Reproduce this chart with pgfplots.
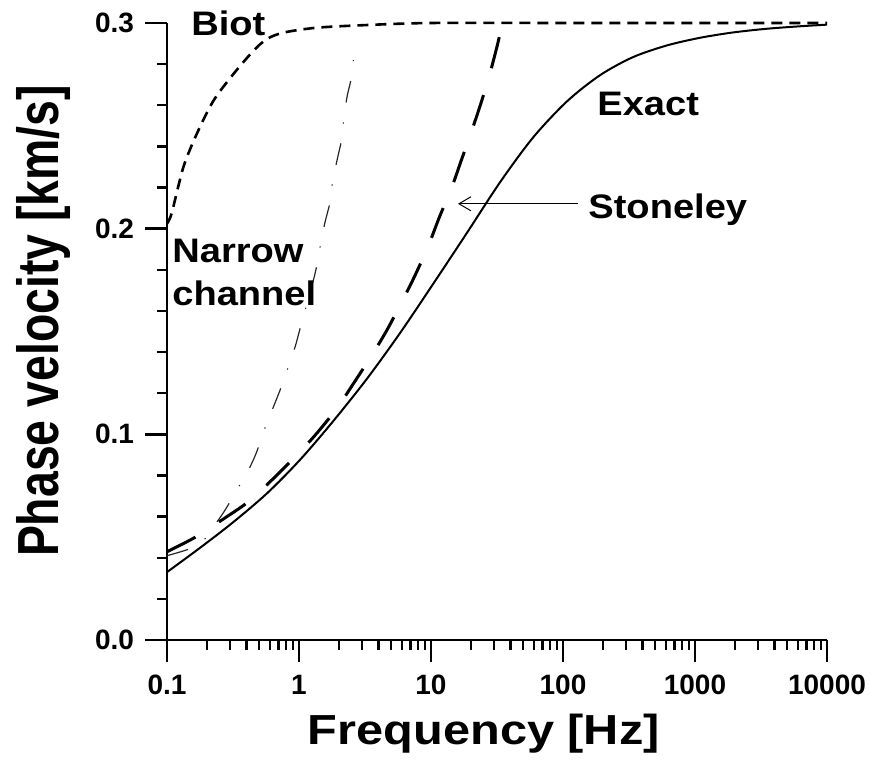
\documentclass[border=0pt]{standalone}
\usepackage{pgfplots}
\pgfplotsset{compat=1.18}
\usepackage{fontspec}
\setmainfont{Liberation Sans}
\usetikzlibrary{arrows.meta}

% annotation text: bold, a little wider than the font
\newcommand{\annot}[1]{\scalebox{1.12}[1]{\fontsize{17}{20}\selectfont\bfseries #1}}

\begin{document}
\begin{tikzpicture}
\begin{axis}[
    at={(0,0)}, anchor=south west,
    scale only axis,
    width=330pt, height=308.5pt,
    xmode=log,
    xmin=0.1, xmax=10000,
    ymin=0, ymax=0.3,
    axis lines=left,
    axis line style={-, line width=1.2pt},
    every tick/.style={black, line width=1.2pt},
    tick align=outside,
    major tick length=11pt,
    minor tick length=5pt,
    xtick={0.1,1,10,100,1000,10000},
    xticklabels={0.1,1,10,100,1000,10000},
    ytick={0,0.1,0.2,0.3},
    yticklabels={0.0,0.1,0.2,0.3},
    minor y tick num=4,
    ticklabel style={font=\fontsize{14}{16}\selectfont\bfseries},
    xticklabel style={yshift=-3pt},
    yticklabel style={xshift=-2pt},
    clip=false,
]

% Biot
\addplot[black, line width=1.3pt, dash pattern=on 5.5pt off 3.5pt, smooth] coordinates {
    (0.1,0.2025) (0.1085,0.2075) (0.1329,0.2298) (0.1679,0.2460) (0.2244,0.2621)
    (0.3178,0.2751) (0.4505,0.2864) (0.569,0.2921) (0.76,0.2953) (1.361,0.2977)
    (3.26,0.299) (10,0.3) (100,0.3) (1000,0.3) (10000,0.3)
};

% Narrow channel
\addplot[black!85, line width=0.6pt, dash pattern=on 11pt off 10pt on 0.6pt off 10pt, smooth] coordinates {
    (0.1,0.041) (0.1726,0.0461) (0.2244,0.055) (0.275,0.0631) (0.337,0.0728)
    (0.413,0.0825) (0.478,0.0914) (0.537,0.1011) (0.718,0.1214) (0.815,0.1314)
    (0.933,0.1424) (1.018,0.1513) (1.283,0.1748) (1.362,0.182) (1.459,0.1926)
    (1.574,0.2031) (1.717,0.2128) (1.80,0.2233) (1.95,0.2338) (2.105,0.2435)
    (2.19,0.2541) (2.32,0.2646) (2.51,0.2743) (2.61,0.2855)
};

% Stoneley
\addplot[black, line width=1.5pt, dash pattern=on 16pt off 14pt, smooth] coordinates {
    (0.1,0.0429) (0.163,0.0499) (0.2597,0.0583) (0.413,0.0672) (0.621,0.0777)
    (0.933,0.089) (1.322,0.0995) (1.931,0.1125) (2.58,0.1246) (3.55,0.1383)
    (4.62,0.1505) (6.00,0.1643) (7.56,0.1772) (9.55,0.1917) (11.56,0.2055)
    (14.35,0.22) (17.09,0.2338) (20.56,0.2484) (24.2,0.2621) (28.3,0.2767)
    (32.4,0.2913) (34.5,0.3)
};

% Exact
\addplot[black, line width=1pt, smooth] coordinates {
    (0.1,0.033) (0.1778,0.0448) (0.3162,0.0572) (0.572,0.0713) (1.018,0.0876)
    (1.81,0.1063) (3.27,0.1270) (5.82,0.1492) (10.35,0.1730) (18.74,0.1980)
    (33.3,0.2225) (59.3,0.2443) (107.2,0.2619) (190.6,0.2746) (339,0.2834)
    (613.6,0.2891) (1091,0.2928) (1941,0.2954) (3510,0.2972) (6240,0.2984)
    (10000,0.2992)
};

\node[anchor=base west, inner sep=0] at (axis cs:0.152,0.2937) {\annot{Biot}};
\node[anchor=base west, inner sep=0] at (axis cs:0.109,0.1835) {\annot{Narrow}};
\node[anchor=base west, inner sep=0] at (axis cs:0.109,0.1626) {\annot{channel}};
\node[anchor=base west, inner sep=0] at (axis cs:181,0.2549) {\annot{Exact}};
\node[anchor=base west, inner sep=0] at (axis cs:154.7,0.2049) {\annot{Stoneley}};
\draw[line width=0.5pt, -{Straight Barb[length=6pt,width=7pt]}] (axis cs:130,0.2121) -- (axis cs:16.0,0.2121);

\node[rotate=90, anchor=base, inner sep=0] at (axis description cs:-0.165,0.517)
    {\scalebox{0.8}[1]{\fontsize{29}{32}\selectfont\bfseries Phase velocity [km/s]}};
\node[anchor=base, inner sep=0] at (axis description cs:0.480,-0.170)
    {\scalebox{1.16}[1]{\fontsize{21}{24}\selectfont\bfseries Frequency [Hz]}};
\end{axis}
\pgfresetboundingbox
\path[use as bounding box] (-83.5pt,-61.5pt) rectangle (352pt,320pt);
\end{tikzpicture}
\end{document}
